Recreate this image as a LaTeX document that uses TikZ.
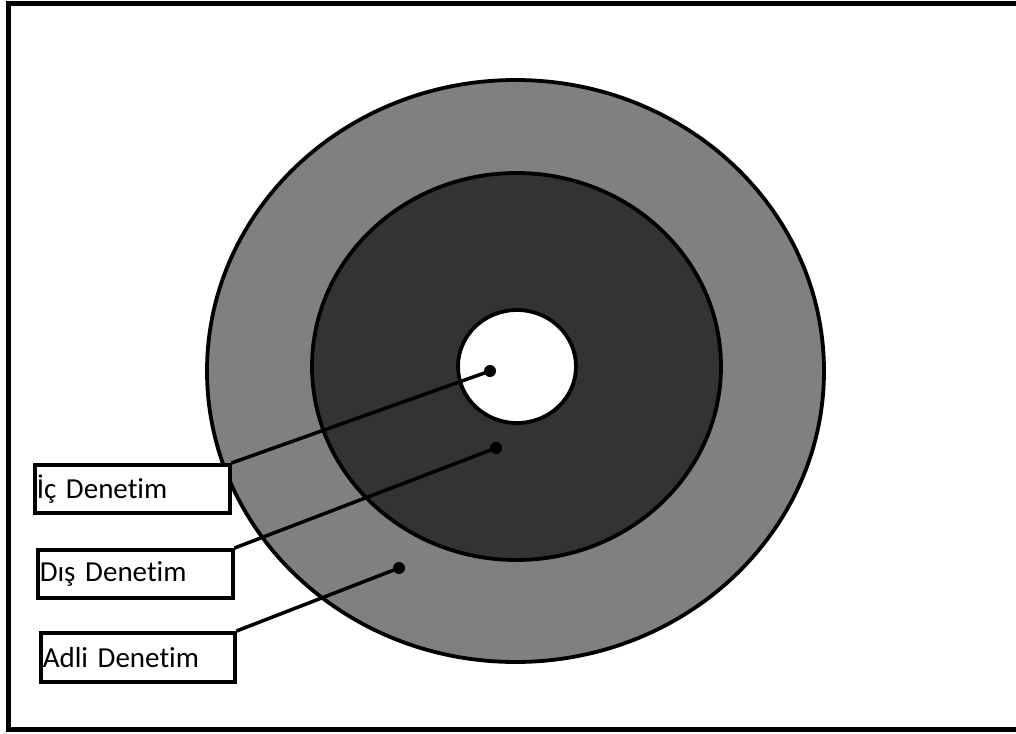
\documentclass[tikz,border=0pt]{standalone}
\usepackage{fontspec}
\setmainfont[Ligatures=NoCommon]{Carlito}
\begin{document}
\begin{tikzpicture}[x=1pt,y=-1pt,
  ring/.style={draw=black,line width=3.8pt},
  lbl/.style={draw=black,line width=3.5pt,fill=white,anchor=north west,
    inner xsep=2pt,inner ysep=0pt,align=left,
    font=\fontsize{29}{33}\selectfont},
  conn/.style={line width=3.5pt,black},
  dotc/.style={circle,fill=black,inner sep=0pt,minimum size=12pt}]
\useasboundingbox (0,0) rectangle (1016,733);
\fill[white] (0,0) rectangle (1016,733);
\draw[line width=5pt] (8.5,4) rectangle (1030,729.5);
\draw[ring,fill={rgb,255:red,128;green,128;blue,128}] (515.5,371) ellipse [x radius=308.5pt,y radius=291pt];
\draw[ring,fill={rgb,255:red,51;green,51;blue,51}] (516.5,366.5) ellipse [x radius=204.5pt,y radius=193.5pt];
\draw[ring,fill=white] (517,366.5) ellipse [x radius=59pt,y radius=56.5pt];
\node[dotc] (d1) at (490,371) {};
\node[dotc] (d2) at (496,448) {};
\node[dotc] (d3) at (399,568) {};
\node[lbl,text width=191pt,minimum height=48pt] (b1) at (33,463) {İç Denetim};
\node[lbl,text width=191pt,minimum height=48pt] (b2) at (36,548) {Dış Denetim};
\node[lbl,text width=190pt,minimum height=49pt] (b3) at (39,631) {Adli Denetim};
\draw[conn] (b1.north east) -- (d1.center);
\draw[conn] (b2.north east) -- (d2.center);
\draw[conn] (b3.north east) -- (d3.center);
\end{tikzpicture}
\end{document}
